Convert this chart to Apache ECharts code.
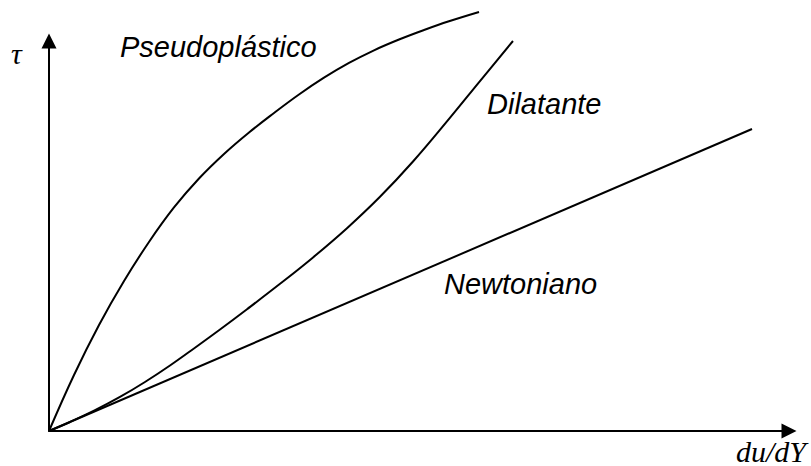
<!DOCTYPE html>
<html>
<head>
<meta charset="utf-8">
<script src="https://cdn.jsdelivr.net/npm/echarts@6/dist/echarts.min.js"></script>
<style>
  html, body { margin: 0; padding: 0; background: #fff; }
  #chart { width: 811px; height: 466px; }
</style>
</head>
<body>
<div id="chart"></div>
<script>
// Shear stress (τ) against shear rate (du/dY) for three fluid types, arbitrary units 0–100
const newtonianoX = [0, 95.0];
const newtonianoY = [0, 77.44];

const pseudoplasticoX = [0, 3.38, 6.76, 10.14, 13.51, 16.89, 20.27, 23.65, 27.03, 30.41, 33.78, 37.16, 40.54, 43.92, 47.30, 50.68, 54.05, 58.11];
const pseudoplasticoY = [0, 14.36, 27.18, 38.46, 48.46, 57.31, 64.74, 71.03, 76.54, 81.54, 86.28, 90.59, 94.38, 97.62, 100.38, 102.82, 105.05, 107.44];

const dilatanteX = [0, 2.84, 6.22, 9.59, 12.97, 16.35, 19.73, 23.11, 26.76, 31.22, 35.68, 40.27, 44.73, 49.19, 53.78, 58.24, 62.70];
const dilatanteY = [0, 2.31, 5.33, 8.72, 12.56, 16.79, 21.36, 26.03, 31.23, 37.74, 44.51, 52.00, 60.05, 69.10, 79.38, 89.72, 100.0];

const curveNames = ['Newtoniano', 'Pseudoplástico', 'Dilatante'];
const axisTitleX = 'du/dY';
const axisTitleY = 'τ';

const zip = (xs, ys) => xs.map((x, i) => [x, ys[i]]);

const chart = echarts.init(document.getElementById('chart'), null, { renderer: 'svg' });

const curveStyle = { color: '#000', width: 2 };
const labelFont = 'italic 29px "Liberation Sans", Arial, sans-serif';
const axisFont = 'italic 30px "Liberation Serif", "Times New Roman", serif';

function makeSeries(name, data) {
  return {
    name: name,
    type: 'line',
    data: data,
    smooth: 0.4,
    symbol: 'none',
    clip: false,
    lineStyle: curveStyle,
    silent: true,
    animation: false
  };
}

const axisCommon = {
  type: 'value',
  min: 0,
  max: 100,
  axisLine: {
    show: true,
    onZero: false,
    symbol: ['none', 'triangle'],
    symbolSize: [15, 15],
    lineStyle: { color: '#000', width: 2 }
  },
  axisTick: { show: false },
  axisLabel: { show: false },
  splitLine: { show: false }
};

chart.setOption({
  backgroundColor: '#fff',
  animation: false,
  grid: { left: 49, right: 22, top: 41, bottom: 35, containLabel: false, outerBoundsMode: 'none' },
  xAxis: Object.assign({}, axisCommon),
  yAxis: Object.assign({}, axisCommon),
  series: [
    makeSeries(curveNames[0], zip(newtonianoX, newtonianoY)),
    makeSeries(curveNames[1], zip(pseudoplasticoX, pseudoplasticoY)),
    makeSeries(curveNames[2], zip(dilatanteX, dilatanteY))
  ],
  graphic: [
    { type: 'text', left: 120, top: 32, style: { text: curveNames[1], font: labelFont, fill: '#000' } },
    { type: 'text', left: 487, top: 89, style: { text: curveNames[2], font: labelFont, fill: '#000' } },
    { type: 'text', left: 444, top: 269, style: { text: curveNames[0], font: labelFont, fill: '#000' } },
    { type: 'text', left: 11, top: 38, style: { text: axisTitleY, font: axisFont, fill: '#000' } },
    { type: 'text', left: 736, top: 436, style: { text: axisTitleX, font: axisFont, fill: '#000' } }
  ]
});
</script>
</body>
</html>
